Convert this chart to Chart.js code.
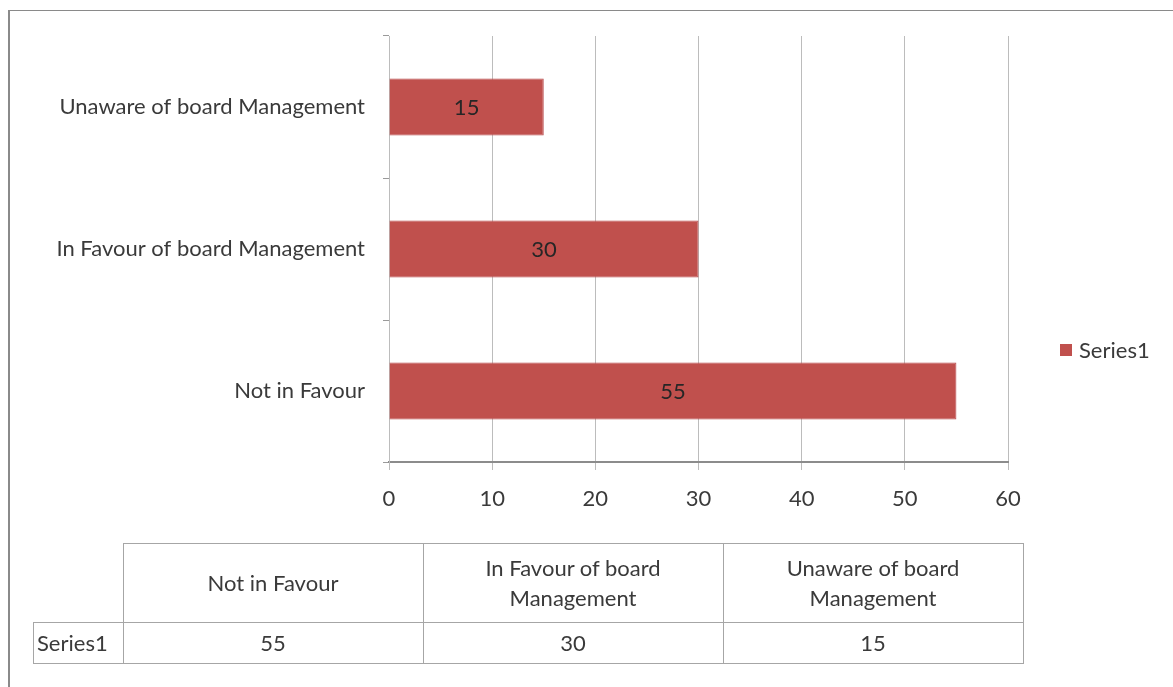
<!DOCTYPE html>
<html>
<head>
<meta charset="utf-8">
<script src="https://cdn.jsdelivr.net/npm/chart.js@4"></script>
<style>
  body { margin: 0; background: white; }
  #wrap { position: relative; width: 1173px; height: 687px; overflow: hidden; }
  #frame { position: absolute; left: 8px; top: 10px; width: 1170px; height: 690px;
           border-top: 1px solid #8a8a8a; border-left: 2px solid #8a8a8a; }
  canvas { position: absolute; left: 0; top: 0; }
  #dataTable { position: absolute; left: 33px; top: 543px; border-collapse: collapse;
               font-family: Lato, "Open Sans", sans-serif; font-size: 22px; color: #3a3a3a; }
  #dataTable td { border: 1px solid #a6a6a6; text-align: center; padding: 0 30px; line-height: 30px; }
  #dataTable td.corner { border-top: none; border-left: none; padding: 0; }
  #dataTable td.rowHead { padding: 0 3px; text-align: left; }
</style>
</head>
<body>
<div id="wrap">
  <div id="frame"></div>
  <canvas id="myChart" width="1173" height="687"></canvas>
  <table id="dataTable"></table>
</div>
<script>
// data, in the order of the table below the chart
const categories = ["Not in Favour", "In Favour of board Management", "Unaware of board Management"];
const values = [55, 30, 15];
const seriesName = "Series1";
const xMin = 0;
const xMax = 60;
const xStep = 10;

const barColor = "#C0504D";
const textColor = "#3a3a3a";
const fontFamily = "Lato, 'Open Sans', sans-serif";

// build the data table
const table = document.getElementById("dataTable");
let head = '<tr style="height:79px"><td class="corner" style="width:89px"></td>';
categories.forEach(c => { head += `<td style="width:239px">${c}</td>`; });
head += "</tr>";
let row = `<tr style="height:41px"><td class="rowHead">${seriesName}</td>`;
values.forEach(v => { row += `<td>${v}</td>`; });
row += "</tr>";
table.innerHTML = head + row;

// value labels in the middle of each bar
const barLabels = {
  id: "barLabels",
  afterDatasetsDraw(chart) {
    const ctx = chart.ctx;
    const meta = chart.getDatasetMeta(0);
    ctx.save();
    ctx.font = "22px " + fontFamily;
    ctx.fillStyle = "#262626";
    ctx.textAlign = "center";
    ctx.textBaseline = "middle";
    meta.data.forEach((bar, i) => {
      const p = bar.getProps(["x", "y", "base"], true);
      ctx.fillText(values[i], (p.x + p.base) / 2, p.y + 1);
    });
    ctx.restore();
  }
};

// legend on the right, Excel style
const sideLegend = {
  id: "sideLegend",
  afterDraw(chart) {
    const ctx = chart.ctx;
    ctx.save();
    ctx.fillStyle = barColor;
    ctx.fillRect(1060, 344, 12, 12);
    ctx.font = "22px " + fontFamily;
    ctx.fillStyle = textColor;
    ctx.textAlign = "left";
    ctx.textBaseline = "middle";
    ctx.fillText(chart.data.datasets[0].label, 1079, 351);
    ctx.restore();
  }
};

const ctx = document.getElementById("myChart").getContext("2d");
const chart = new Chart(ctx, {
  type: "bar",
  data: {
    labels: categories,
    datasets: [{
      label: seriesName,
      data: values,
      backgroundColor: barColor,
      borderColor: "#b8474a",
      borderWidth: 1,
      barPercentage: 0.4,
      categoryPercentage: 1
    }]
  },
  options: {
    indexAxis: "y",
    responsive: false,
    animation: false,
    layout: { padding: { top: 36, right: 165, left: 0, bottom: 0 } },
    plugins: {
      legend: { display: false },
      tooltip: { enabled: false }
    },
    scales: {
      x: {
        min: xMin,
        max: xMax,
        ticks: { stepSize: xStep, color: textColor, font: { size: 22, family: fontFamily }, padding: 16 },
        grid: { color: "#bcbcbc", lineWidth: 1, tickLength: 8 },
        border: { color: "#8c8c8c", width: 2 },
        afterFit: scale => { scale.height = 225; }
      },
      y: {
        reverse: true,
        ticks: { color: textColor, font: { size: 22, family: fontFamily }, padding: 18 },
        grid: { drawOnChartArea: false, color: "#9a9a9a", tickLength: 6, offset: true },
        border: { color: "#bcbcbc", width: 1 },
        afterFit: scale => { scale.width = 389; }
      }
    }
  },
  plugins: [barLabels, sideLegend]
});
</script>
</body>
</html>
